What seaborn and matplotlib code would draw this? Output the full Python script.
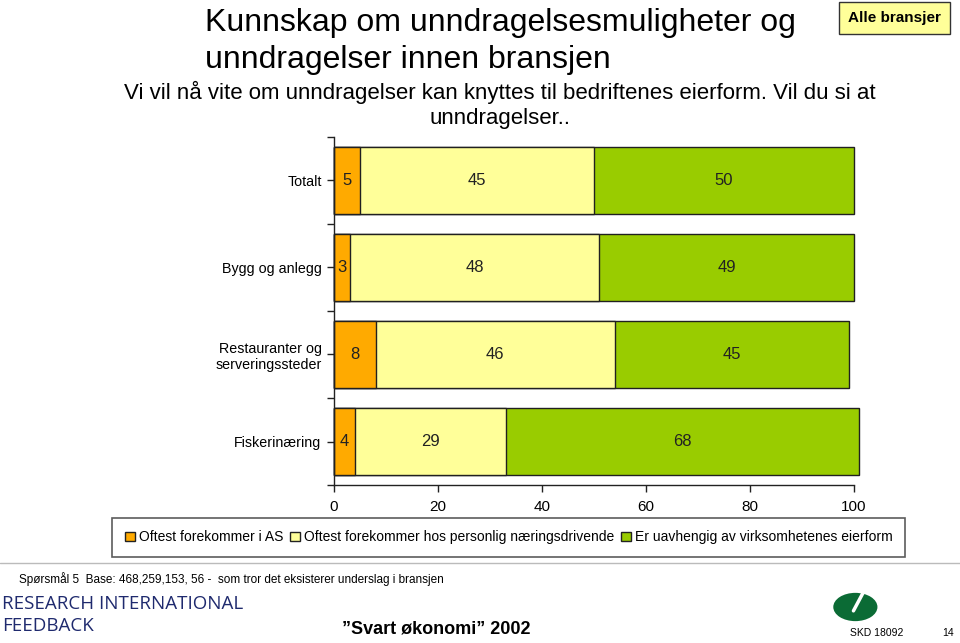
import matplotlib
matplotlib.use("Agg")
import matplotlib.pyplot as plt
from matplotlib.patches import Rectangle, Ellipse
import pandas as pd
import seaborn as sns

# data
categories = ["Totalt", "Bygg og anlegg", "Restauranter og\nserveringssteder", "Fiskerinæring"]
as_vals = [5, 3, 8, 4]
personlig_vals = [45, 48, 46, 29]
uavhengig_vals = [50, 49, 45, 68]
series_names = ["Oftest forekommer i AS",
                "Oftest forekommer hos personlig næringsdrivende",
                "Er uavhengig av virksomhetenes eierform"]
colors = ["#FFAA00", "#FFFF99", "#99CC00"]
xticks = [0, 20, 40, 60, 80, 100]

sns.set_theme(style="white")
plt.rcParams['font.family'] = ['Liberation Sans', 'DejaVu Sans']
plt.rcParams['text.color'] = 'black'
plt.rcParams['xtick.color'] = 'black'
plt.rcParams['ytick.color'] = 'black'

df = pd.DataFrame({"kategori": categories, "as": as_vals,
                   "pers": personlig_vals, "uavh": uavhengig_vals})
df["c1"] = df["as"]
df["c2"] = df["as"] + df["pers"]
df["c3"] = df["c2"] + df["uavh"]

fig = plt.figure(figsize=(9.6, 6.43), dpi=100)
ax = fig.add_axes([0.348, 0.2457, 0.5415, 0.5413])

# stacked bars drawn as cumulative layers, widest first
for col, c in zip(["c3", "c2", "c1"], colors[::-1]):
    sns.barplot(data=df, x=col, y="kategori", color=c, orient="h", width=0.77,
                edgecolor="#202020", linewidth=1.0, saturation=1, ax=ax)
for p in ax.patches:
    p.set_clip_on(False)

# value labels
for i, row in df.iterrows():
    for lo, v in [(0, row["as"]), (row["c1"], row["pers"]), (row["c2"], row["uavh"])]:
        ax.text(lo + v / 2, i, f"{v}", ha="center", va="center", fontsize=12, color="#222222")

ax.set_xlim(0, 100)
ax.set_ylim(3.5, -0.5)
ax.set_xticks(xticks)
ax.set_xticklabels([str(t) for t in xticks], fontsize=11)
ax.set_yticks(range(len(categories)))
ax.set_yticklabels(categories, fontsize=10.3)
ax.set_yticks([-0.5, 0.5, 1.5, 2.5, 3.5], minor=True)
ax.tick_params(axis="y", which="both", direction="out", length=5, width=1, left=True, color="#222222", pad=4)
ax.tick_params(axis="x", which="major", direction="out", length=5, width=1, bottom=True, color="#222222", pad=6)
ax.set_xlabel("")
ax.set_ylabel("")
for s in ["top", "right"]:
    ax.spines[s].set_visible(False)
for s in ["left", "bottom"]:
    ax.spines[s].set_color("#222222")
    ax.spines[s].set_linewidth(1)

# legend
handles = [Rectangle((0, 0), 1, 1, facecolor=c, edgecolor="#222222", linewidth=1) for c in colors]
leg = fig.legend(handles, series_names, ncol=3, loc="center", bbox_to_anchor=(0.53, 0.1645),
                 fontsize=10, frameon=True, fancybox=False, edgecolor="#333333",
                 handlelength=0.7, handleheight=0.7, handletextpad=0.3, columnspacing=0.5,
                 borderpad=0.9, borderaxespad=0.2)
leg.get_frame().set_linewidth(1.2)

# titles
fig.text(0.2135, 0.965, "Kunnskap om unndragelsesmuligheter og", ha="left", va="center", fontsize=23)
fig.text(0.2135, 0.906, "unndragelser innen bransjen", ha="left", va="center", fontsize=23)
fig.text(0.521, 0.857, "Vi vil nå vite om unndragelser kan knyttes til bedriftenes eierform. Vil du si at",
         ha="center", va="center", fontsize=16)
fig.text(0.521, 0.815, "unndragelser..", ha="center", va="center", fontsize=16)

fig.text(0.9315, 0.972, "Alle bransjer", ha="center", va="center", fontsize=11, fontweight="bold",
         bbox=dict(boxstyle="square,pad=0.6", facecolor="#FFFF99", edgecolor="#333333", linewidth=1))

# footer
fig.add_artist(plt.Line2D([0, 1], [0.124, 0.124], color="#bbbbbb", linewidth=1, transform=fig.transFigure))
fig.text(0.02, 0.100, "Spørsmål 5  Base: 468,259,153, 56 -  som tror det eksisterer underslag i bransjen",
         ha="left", va="center", fontsize=8.5)
fig.text(0.002, 0.061, "RESEARCH INTERNATIONAL", ha="left", va="center", fontsize=13.5,
         color="#1F2A6E", family=["Open Sans", "DejaVu Sans"])
fig.text(0.002, 0.027, "FEEDBACK", ha="left", va="center", fontsize=13.5,
         color="#1F2A6E", family=["Open Sans", "DejaVu Sans"])
fig.text(0.454, 0.022, "\u201dSvart økonomi\u201d 2002", ha="center", va="center", fontsize=13, fontweight="bold")
fig.add_artist(Ellipse((0.891, 0.056), 0.046, 0.044, transform=fig.transFigure,
                       facecolor="#0B6B35", edgecolor="none"))
fig.add_artist(plt.Line2D([0.889, 0.899], [0.050, 0.078], color="white", linewidth=2.5,
                          transform=fig.transFigure))
fig.text(0.913, 0.008, "SKD 18092", ha="center", va="bottom", fontsize=7.5)
fig.text(0.988, 0.008, "14", ha="center", va="bottom", fontsize=7.5)

fig.savefig("out.png", dpi=100)
